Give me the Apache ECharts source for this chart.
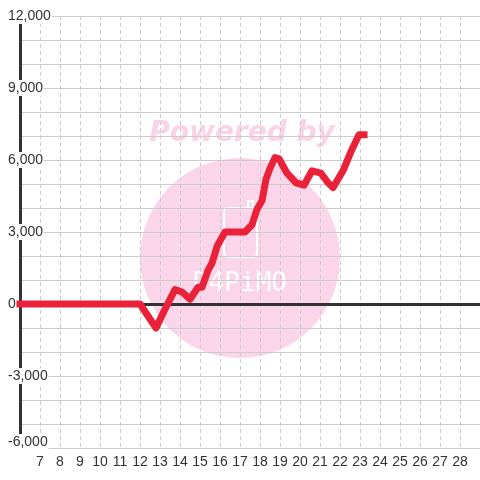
<!DOCTYPE html>
<html>
<head>
<meta charset="utf-8">
<script src="https://cdn.jsdelivr.net/npm/echarts@6/dist/echarts.min.js"></script>
<style>
html, body { margin: 0; padding: 0; background: #fff; }
#chart { width: 480px; height: 480px; }
</style>
</head>
<body>
<div id="chart"></div>
<script>
// day of month (x) and value (y) for the red line
var days = [6, 12, 12.8, 13.2, 13.75, 14.1, 14.5, 14.9, 15.1, 15.4, 15.6, 15.85, 16.25, 17.25,
    17.6, 17.85, 18.1, 18.3, 18.5, 18.75, 18.95, 19.35, 19.8, 20.2, 20.6, 21.05, 21.4, 21.65,
    22.15, 22.55, 22.95, 23.2];
var values = [0, 0, -1000, -300, 600, 500, 200, 700, 700, 1400, 1700, 2400, 3000, 3000,
    3300, 3950, 4300, 5200, 5650, 6100, 6050, 5450, 5050, 4950, 5550, 5450, 5050, 4850,
    5550, 6350, 7050, 7050];
var xTicks = [7, 8, 9, 10, 11, 12, 13, 14, 15, 16, 17, 18, 19, 20, 21, 22, 23, 24, 25, 26, 27, 28];
var yTicks = [-6000, -3000, 0, 3000, 6000, 9000, 12000];

var points = days.map(function(d, i) { return [d, values[i]]; });

var chart = echarts.init(document.getElementById('chart'));
var option = {
    animation: false,
    grid: { left: 20, right: 0, top: 16, bottom: 32 },
    graphic: [
        { type: 'circle', z: -10, shape: { cx: 240, cy: 258, r: 100 }, style: { fill: '#fbd5ea' } },
        { type: 'text', z: -10, x: 242, y: 134, style: {
            text: 'Powered by', fill: '#fbd3e8', font: 'italic bold 28px "DejaVu Sans"',
            align: 'center', verticalAlign: 'middle' } },
        { type: 'rect', z: -9, shape: { x: 224, y: 208, width: 33, height: 49, r: 4 },
            style: { fill: 'none', stroke: '#fff', lineWidth: 2 } },
        { type: 'rect', z: -9, shape: { x: 248, y: 201, width: 5, height: 7 },
            style: { fill: 'none', stroke: '#fff', lineWidth: 2 } },
        { type: 'text', z: -9, x: 240, y: 284, style: {
            text: 'D4PiMO', fill: '#fff', font: '26px "DejaVu Sans Mono"',
            align: 'center', verticalAlign: 'middle' } }
    ],
    xAxis: [{
        type: 'value',
        min: 6,
        max: 29,
        interval: 1,
        axisLine: { show: false, onZero: false },
        axisTick: { show: false },
        axisLabel: {
            margin: 7, fontSize: 14, color: '#333', fontFamily: 'Liberation Sans',
            showMinLabel: false, showMaxLabel: false,
            formatter: function(v) { return xTicks.indexOf(v) >= 0 ? String(v) : ''; }
        },
        splitLine: { show: true, lineStyle: { color: '#ccc', type: [4, 3], width: 1 } }
    }, {
        type: 'value',
        min: 6,
        max: 29,
        position: 'bottom',
        axisLine: { show: true, onZero: true, lineStyle: { color: '#333', width: 3 } },
        axisTick: { show: false },
        axisLabel: { show: false },
        splitLine: { show: false }
    }],
    yAxis: {
        type: 'value',
        min: yTicks[0],
        max: yTicks[yTicks.length - 1],
        interval: 1000,
        axisLine: { show: true, onZero: false, lineStyle: { color: '#333', width: 3 } },
        axisTick: { show: false },
        axisLabel: {
            align: 'left',
            margin: 13,
            fontSize: 14,
            color: '#333',
            fontFamily: 'Liberation Sans',
            backgroundColor: '#fff',
            padding: [1, 1],
            formatter: function(v) {
                if (yTicks.indexOf(v) < 0) return '';
                var s = v.toLocaleString('en-US');
                return v === yTicks[0] ? '{low|' + s + '}' : s;
            },
            rich: {
                low: { fontSize: 14, color: '#333', fontFamily: 'Liberation Sans', padding: [0, 0, 12, 0] }
            }
        },
        splitLine: { show: true, lineStyle: { color: '#ccc', width: 1 } }
    },
    series: [{
        type: 'line',
        data: points,
        showSymbol: false,
        clip: false,
        color: '#e9223a',
        lineStyle: { color: '#e9223a', width: 7, cap: 'square', join: 'round' }
    }]
};
chart.setOption(option);
</script>
</body>
</html>
